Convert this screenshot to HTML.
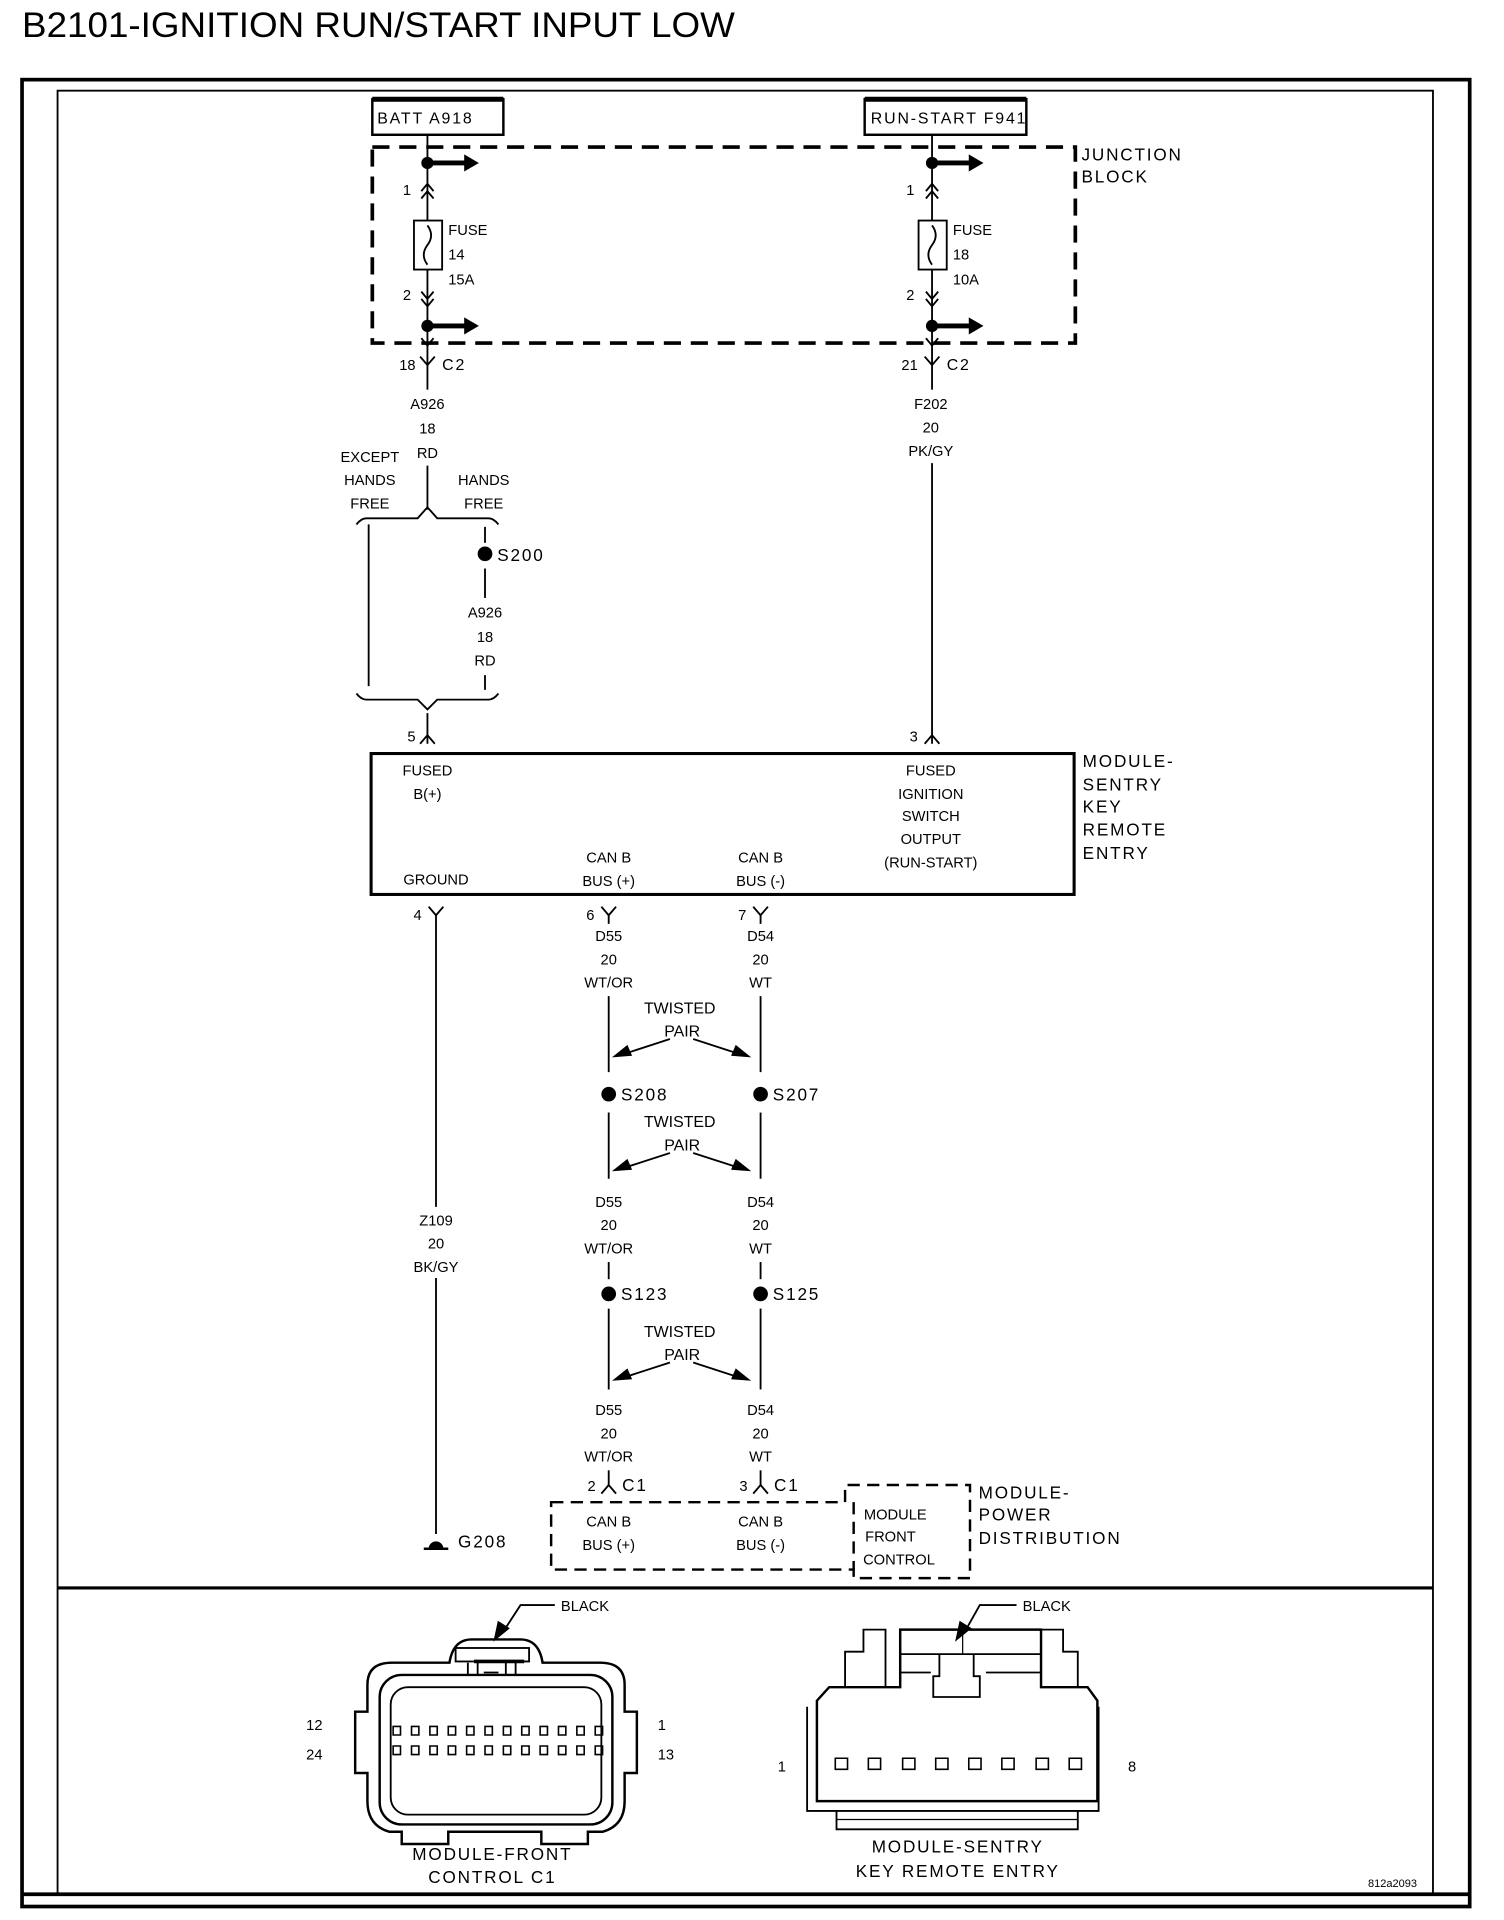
<!DOCTYPE html>
<html><head><meta charset="utf-8"><style>
html,body{margin:0;padding:0;background:#fff}
svg{display:block}
text{font-family:"Liberation Sans",sans-serif;fill:#000}
.s{font-size:12px}
.m{font-size:14px;letter-spacing:1.5px}
</style></head><body>
<svg width="1504" height="1920" viewBox="0 0 1228 1567" preserveAspectRatio="none" xmlns="http://www.w3.org/2000/svg">
<g stroke="#000" fill="none">
<text x="18" y="30" textLength="582" lengthAdjust="spacingAndGlyphs" style="font-size:29px;stroke:none">B2101-IGNITION RUN/START INPUT LOW</text>
<rect x="18" y="65" width="1182" height="1491" stroke-width="3"/>
<rect x="47" y="74" width="1123" height="1472" stroke-width="1.5"/>
<line x1="47" y1="1296" x2="1170" y2="1296" stroke-width="2.5"/>
<line x1="18" y1="1546" x2="1200" y2="1546" stroke-width="3"/>

<rect x="304" y="81" width="107" height="29" stroke-width="2"/>
<line x1="304" y1="81" x2="411" y2="81" stroke-width="4"/>
<rect x="706" y="81" width="132" height="29" stroke-width="2"/>
<line x1="706" y1="81" x2="838" y2="81" stroke-width="4"/>
<rect x="304" y="120" width="574" height="160" stroke-width="3" stroke-dasharray="14,8"/>

<g stroke-width="1.5">
<line x1="349" y1="110" x2="349" y2="180"/>
<line x1="349" y1="220" x2="349" y2="318"/>
<line x1="349" y1="380" x2="349" y2="416"/>
<line x1="761" y1="110" x2="761" y2="180"/>
<line x1="761" y1="220" x2="761" y2="318"/>
<line x1="761" y1="378" x2="761" y2="607"/>
<rect x="338" y="180" width="23" height="40"/>
<rect x="750" y="180" width="23" height="40"/>
<path d="M349 184 q6 8 0 16 q-6 8 0 16"/>
<path d="M761 184 q6 8 0 16 q-6 8 0 16"/>
<path d="M344 156 l5 -6 l5 6 M344 162 l5 -6 l5 6"/>
<path d="M756 156 l5 -6 l5 6 M756 162 l5 -6 l5 6"/>
<path d="M344 238 l5 6 l5 -6 M344 244 l5 6 l5 -6"/>
<path d="M756 238 l5 6 l5 -6 M756 244 l5 6 l5 -6"/>
<path d="M344 276 l5 6 l5 -6"/><path d="M756 276 l5 6 l5 -6"/>
<path d="M343 291 l6 7 l6 -7"/><path d="M755 291 l6 7 l6 -7"/>
</g>
<g fill="#000" stroke="none">
<circle cx="349" cy="133" r="5"/><circle cx="761" cy="133" r="5"/>
<circle cx="349" cy="266" r="5"/><circle cx="761" cy="266" r="5"/>
<path d="M349 131h30v-5l12 7l-12 7v-5h-30z"/>
<path d="M761 131h30v-5l12 7l-12 7v-5h-30z"/>
<path d="M349 264h30v-5l12 7l-12 7v-5h-30z"/>
<path d="M761 264h30v-5l12 7l-12 7v-5h-30z"/>
</g>
</g>
<g class="s">
<text x="308" y="101" class="m" style="font-size:13px">BATT A918</text>
<text x="711" y="101" class="m" style="font-size:13px">RUN-START F941</text>
<text x="883" y="131" class="m">JUNCTION</text>
<text x="883" y="149" class="m">BLOCK</text>
<text x="329" y="159">1</text><text x="740" y="159">1</text>
<text x="329" y="245">2</text><text x="740" y="245">2</text>
<text x="366" y="192">FUSE</text><text x="366" y="212">14</text><text x="366" y="232">15A</text>
<text x="778" y="192">FUSE</text><text x="778" y="212">18</text><text x="778" y="232">10A</text>
<text x="326" y="302">18</text><text x="361" y="302" class="m" style="font-size:13px">C2</text>
<text x="736" y="302">21</text><text x="773" y="302" class="m" style="font-size:13px">C2</text>
<g text-anchor="middle">
<text x="349" y="334">A926</text><text x="349" y="354">18</text><text x="349" y="374">RD</text>
<text x="760" y="334">F202</text><text x="760" y="353">20</text><text x="760" y="372">PK/GY</text>
<text x="302" y="377">EXCEPT</text><text x="302" y="396">HANDS</text><text x="302" y="415">FREE</text>
<text x="395" y="396">HANDS</text><text x="395" y="415">FREE</text>
<text x="396" y="504">A926</text><text x="396" y="524">18</text><text x="396" y="543">RD</text>
</g>
<text x="406" y="458" class="m">S200</text>
</g>
<g stroke="#000" fill="none" stroke-width="1.5">
<path d="M291 428 q4 -5 8 -5 h42 l8 -9 l8 9 h42 q4 0 8 5"/>
<line x1="301" y1="428" x2="301" y2="560"/>
<line x1="396" y1="430" x2="396" y2="443"/><line x1="396" y1="464" x2="396" y2="488"/>
<line x1="396" y1="551" x2="396" y2="563"/>
<path d="M291 566 q4 5 8 5 h42 l8 8 l8 -8 h42 q4 0 8 -5"/>
<line x1="349" y1="582" x2="349" y2="607"/>
<path d="M343 607 l6 -7 l6 7"/>
<path d="M755 607 l6 -7 l6 7"/>
</g>
<circle cx="396" cy="452" r="6" fill="#000"/>
<rect x="303" y="615" width="574" height="115" fill="none" stroke="#000" stroke-width="2.5"/>
<g class="s" text-anchor="middle">
<text x="336" y="605">5</text><text x="746" y="605">3</text>
<text x="349" y="633">FUSED</text><text x="349" y="652">B(+)</text>
<text x="760" y="633">FUSED</text><text x="760" y="652">IGNITION</text><text x="760" y="670">SWITCH</text><text x="760" y="689">OUTPUT</text><text x="760" y="708">(RUN-START)</text>
<text x="356" y="722">GROUND</text>
<text x="497" y="704">CAN B</text><text x="497" y="723">BUS (+)</text>
<text x="621" y="704">CAN B</text><text x="621" y="723">BUS (-)</text>
</g>
<g class="m" style="font-size:14px">
<text x="884" y="626">MODULE-</text><text x="884" y="645">SENTRY</text><text x="884" y="663">KEY</text><text x="884" y="682">REMOTE</text><text x="884" y="701">ENTRY</text>
</g>
<g stroke="#000" fill="none" stroke-width="1.5">
<path d="M350 740 l6 7 l6 -7"/><line x1="356" y1="747" x2="356" y2="985"/><line x1="356" y1="1043" x2="356" y2="1252"/>
<path d="M491 740 l6 7 l6 -7"/><line x1="497" y1="747" x2="497" y2="754"/>
<path d="M615 740 l6 7 l6 -7"/><line x1="621" y1="747" x2="621" y2="754"/>
<line x1="497" y1="813" x2="497" y2="875"/><line x1="621" y1="813" x2="621" y2="875"/>
<line x1="497" y1="908" x2="497" y2="962"/><line x1="621" y1="908" x2="621" y2="962"/>
<line x1="497" y1="1030" x2="497" y2="1044"/><line x1="621" y1="1030" x2="621" y2="1044"/>
<line x1="497" y1="1068" x2="497" y2="1134"/><line x1="621" y1="1068" x2="621" y2="1134"/>
<line x1="497" y1="1200" x2="497" y2="1212"/><line x1="621" y1="1200" x2="621" y2="1212"/>
<path d="M491 1219 l6 -7 l6 7"/><path d="M615 1219 l6 -7 l6 7"/>
<line x1="346" y1="1264" x2="366" y2="1264" stroke-width="2"/>
<path d="M450 1226 H690 V1212 H792 V1288 H697 V1281 H450 Z" stroke-width="2" stroke-dasharray="10,6"/>
<line x1="697" y1="1226" x2="697" y2="1281" stroke-width="2" stroke-dasharray="10,6"/>
</g>
<g fill="#000">
<circle cx="497" cy="893" r="6"/><circle cx="621" cy="893" r="6"/>
<circle cx="497" cy="1056" r="6"/><circle cx="621" cy="1056" r="6"/>
<path d="M350 1264 a6 6 0 0 1 12 0z"/>
</g>
<g stroke="#000" stroke-width="1.5" fill="#000">
<line x1="547" y1="848" x2="510" y2="860"/><path d="M502 862 l10 -8 l3 7z"/>
<line x1="566" y1="848" x2="603" y2="860"/><path d="M611 862 l-10 -8 l-3 7z"/>
<line x1="547" y1="941" x2="510" y2="953"/><path d="M502 955 l10 -8 l3 7z"/>
<line x1="566" y1="941" x2="603" y2="953"/><path d="M611 955 l-10 -8 l-3 7z"/>
<line x1="547" y1="1112" x2="510" y2="1124"/><path d="M502 1126 l10 -8 l3 7z"/>
<line x1="566" y1="1112" x2="603" y2="1124"/><path d="M611 1126 l-10 -8 l-3 7z"/>
</g>
<g class="s" text-anchor="middle">
<text x="341" y="751">4</text><text x="482" y="751">6</text><text x="606" y="751">7</text>
<text x="497" y="768">D55</text><text x="497" y="787">20</text><text x="497" y="806">WT/OR</text>
<text x="621" y="768">D54</text><text x="621" y="787">20</text><text x="621" y="806">WT</text>
<text x="497" y="985">D55</text><text x="497" y="1004">20</text><text x="497" y="1023">WT/OR</text>
<text x="621" y="985">D54</text><text x="621" y="1004">20</text><text x="621" y="1023">WT</text>
<text x="497" y="1155">D55</text><text x="497" y="1174">20</text><text x="497" y="1193">WT/OR</text>
<text x="621" y="1155">D54</text><text x="621" y="1174">20</text><text x="621" y="1193">WT</text>
<text x="356" y="1000">Z109</text><text x="356" y="1019">20</text><text x="356" y="1038">BK/GY</text>
<text x="555" y="827" style="font-size:13px">TWISTED</text><text x="557" y="846" style="font-size:13px">PAIR</text>
<text x="555" y="920" style="font-size:13px">TWISTED</text><text x="557" y="939" style="font-size:13px">PAIR</text>
<text x="555" y="1091" style="font-size:13px">TWISTED</text><text x="557" y="1110" style="font-size:13px">PAIR</text>
<text x="483" y="1217">2</text><text x="607" y="1217">3</text>
<text x="497" y="1246">CAN B</text><text x="497" y="1265">BUS (+)</text>
<text x="621" y="1246">CAN B</text><text x="621" y="1265">BUS (-)</text>
<text x="731" y="1240">MODULE</text><text x="727" y="1258">FRONT</text><text x="734" y="1277">CONTROL</text>
</g>
<g class="m">
<text x="507" y="898">S208</text><text x="631" y="898">S207</text>
<text x="507" y="1061">S123</text><text x="631" y="1061">S125</text>
<text x="508" y="1217">C1</text><text x="632" y="1217">C1</text>
<text x="374" y="1263">G208</text>
<text x="799" y="1223">MODULE-</text><text x="799" y="1241">POWER</text><text x="799" y="1260">DISTRIBUTION</text>
</g>

<g stroke="#000" fill="none" stroke-width="2">
<path d="M300 1375 Q300 1357 320 1357 H367 Q370 1338 385 1338 H425 Q440 1338 443 1357 H490 Q510 1357 510 1375 V1397 H520 V1447 H510 V1470 Q510 1490 492 1495 H480 V1505 H442 V1495 H366 V1505 H328 V1495 H318 Q300 1490 300 1470 V1447 H290 V1397 H300 Z"/>
<rect x="310" y="1367" width="190" height="122" rx="18"/>
<rect x="319" y="1377" width="172" height="104" rx="14" stroke-width="1.5"/>
<rect x="372" y="1345" width="60" height="11" stroke-width="1.5"/>
<line x1="387" y1="1356" x2="428" y2="1356" stroke-width="3"/>
<path d="M382 1357 v10 M390 1357 v10 M413 1357 v10 M421 1357 v10 M395 1365 h12" stroke-width="1.5"/>
<path d="M667 1388 L677 1377 H735 V1330 H850 V1377 H888 L896 1388 V1470 H667 Z"/>
<path d="M659 1393 V1478 H897 V1393" stroke-width="1.5"/>
<path d="M683 1478 V1493 H880 V1478" stroke-width="1.5"/>
<line x1="683" y1="1485" x2="880" y2="1485" stroke-width="1"/>
<path d="M690 1377 V1348 H705 V1330 H723 V1377" stroke-width="1.5"/>
<path d="M850 1330 H868 V1348 H880 V1377" stroke-width="1.5"/>
<path d="M735 1350 H850 M767 1350 V1368 H762 V1385 H800 V1368 H795 V1350" stroke-width="1.5"/>
<path d="M735 1365 H760 M805 1365 H850" stroke-width="1.5"/>
<line x1="786" y1="1330" x2="786" y2="1350" stroke-width="1"/>
</g>
<g stroke="#000" fill="none" stroke-width="1.3">
<path d="M321 1409h6v7h-6z M336 1409h6v7h-6z M351 1409h6v7h-6z M366 1409h6v7h-6z M381 1409h6v7h-6z M396 1409h6v7h-6z M411 1409h6v7h-6z M426 1409h6v7h-6z M441 1409h6v7h-6z M456 1409h6v7h-6z M471 1409h6v7h-6z M486 1409h6v7h-6z"/>
<path d="M321 1425h6v7h-6z M336 1425h6v7h-6z M351 1425h6v7h-6z M366 1425h6v7h-6z M381 1425h6v7h-6z M396 1425h6v7h-6z M411 1425h6v7h-6z M426 1425h6v7h-6z M441 1425h6v7h-6z M456 1425h6v7h-6z M471 1425h6v7h-6z M486 1425h6v7h-6z"/>
<path d="M682 1435h10v9h-10z M709 1435h10v9h-10z M737 1435h10v9h-10z M764 1435h10v9h-10z M791 1435h10v9h-10z M818 1435h10v9h-10z M846 1435h10v9h-10z M873 1435h10v9h-10z"/>
</g>
<g stroke="#000" stroke-width="1.5" fill="#000">
<path d="M453 1310 H425 L410 1333" fill="none"/><path d="M404 1338 l3 -14 l8 5z"/>
<path d="M830 1310 H800 L787 1333" fill="none"/><path d="M781 1338 l3 -14 l8 5z"/>
</g>
<g class="s">
<text x="458" y="1315">BLACK</text><text x="835" y="1315">BLACK</text>
<text x="250" y="1412">12</text><text x="250" y="1436">24</text>
<text x="537" y="1412">1</text><text x="537" y="1436">13</text>
<text x="635" y="1446">1</text><text x="921" y="1446">8</text>
<text x="1117" y="1540" style="font-size:9px">812a2093</text>
</g>
<g class="m" text-anchor="middle">
<text x="402" y="1518">MODULE-FRONT</text><text x="402" y="1537">CONTROL C1</text>
<text x="782" y="1512">MODULE-SENTRY</text><text x="782" y="1532">KEY REMOTE ENTRY</text>
</g>
</svg>
</body></html>
